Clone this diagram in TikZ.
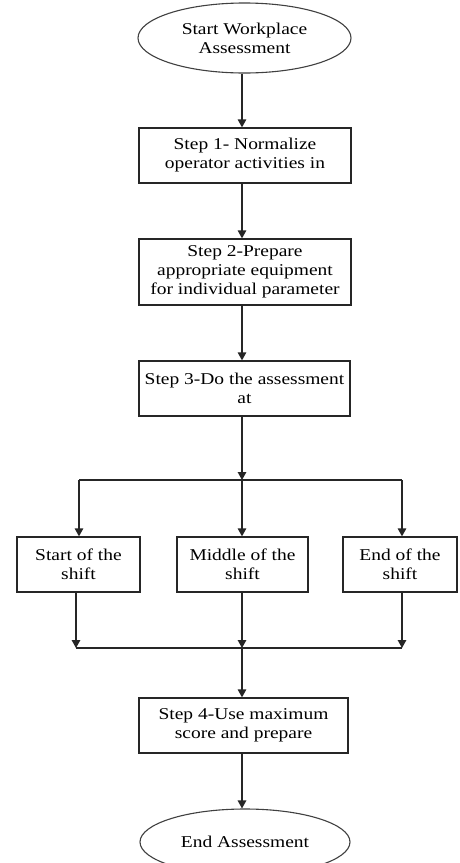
\documentclass[tikz,border=0pt]{standalone}
\usepackage{fontspec}
\setmainfont{Liberation Serif}[FakeStretch=1.18]
\usetikzlibrary{arrows.meta,shapes.geometric}
\tikzset{
  lbl/.style={font=\fontsize{16.5}{19}\selectfont, align=center, inner sep=0pt},
  stepbox/.style={lbl, draw=black!85, line width=1.3pt, minimum height=55pt},
  term/.style={lbl, ellipse, draw=black!75, line width=1.1pt},
  conn/.style={draw=black!85, line width=1.4pt},
  arr/.style={conn, -{Triangle[width=8.5pt,length=8pt]}}
}
\begin{document}
\begin{tikzpicture}[x=1pt,y=-1pt]
\useasboundingbox[fill=white] (0,0) rectangle (459,863);
\node[term, minimum width=213pt, minimum height=70pt] (start) at (244.5,38) {Start Workplace\\Assessment};
\node[stepbox, minimum width=212pt] (s1) at (245,155.5) {Step 1- Normalize\\operator activities in};
\node[stepbox, minimum width=212pt, minimum height=66pt] (s2) at (245,272) {Step 2-Prepare\\appropriate equipment\\for individual parameter};
\node[stepbox, minimum width=211pt] (s3) at (244.5,388.5) {Step 3-Do the assessment\\at};
\node[stepbox, minimum width=123pt] (b1) at (78.5,564.5) {Start of the\\shift};
\node[stepbox, minimum width=131pt] (b2) at (242.5,564.5) {Middle of the\\shift};
\node[stepbox, minimum width=114pt] (b3) at (400,564.5) {End of the\\shift};
\node[stepbox, minimum width=209pt] (s4) at (243.5,725.5) {Step 4-Use maximum\\score and prepare};
\node[term, minimum width=210pt, minimum height=66pt] (end) at (245,842) {End Assessment};
\coordinate (split) at (242,480);
\coordinate (splitL) at (79,480);
\coordinate (splitR) at (402,480);
\coordinate (merge) at (242,648);
\coordinate (mergeL) at (76,648);
\coordinate (mergeR) at (402,648);
\draw[arr] (start.south -| split) -- (s1.north -| split);
\draw[arr] (s1.south -| split) -- (s2.north -| split);
\draw[arr] (s2.south -| split) -- (s3.north -| split);
\draw[arr] (s3.south -| split) -- (split);
\draw[conn] (splitL) -- (splitR);
\draw[arr] (splitL) -- (b1.north -| splitL);
\draw[arr] (split) -- (b2.north -| split);
\draw[arr] (splitR) -- (b3.north -| splitR);
\draw[arr] (b1.south -| mergeL) -- (mergeL);
\draw[arr] (b2.south -| merge) -- (merge);
\draw[arr] (b3.south -| mergeR) -- (mergeR);
\draw[conn] (mergeL) -- (mergeR);
\draw[arr] (merge) -- (s4.north -| merge);
\draw[arr] (s4.south -| merge) -- (end.north -| merge);
\end{tikzpicture}
\end{document}
